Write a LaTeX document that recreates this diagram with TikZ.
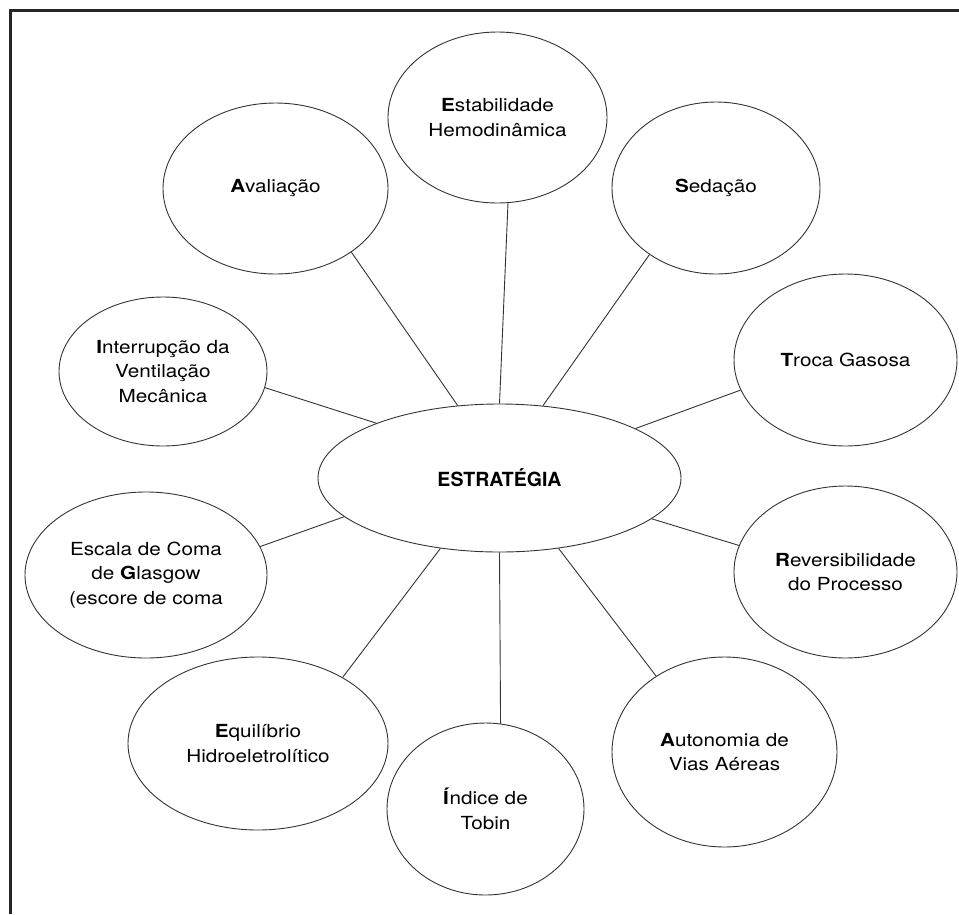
\documentclass[tikz,border=0pt]{standalone}
\usepackage{fontspec}
\setmainfont{TeX Gyre Heros}
\newfontfamily\widefont[FakeStretch=1.15]{TeX Gyre Heros}
\usetikzlibrary{shapes.geometric}

\newcommand{\topicfont}{\widefont\fontsize{18}{24.5}\selectfont}
\newcommand{\hubfont}{\fontsize{19.5}{24}\selectfont\bfseries}

\begin{document}
\begin{tikzpicture}[x=1pt,y=-1pt,
    topic/.style 2 args={ellipse, draw=black!80, line width=0.9pt, inner sep=0pt,
      minimum width=#1, minimum height=#2, align=center, font=\topicfont},
    link/.style={draw=black!80, line width=0.9pt}]
    
    \useasboundingbox (0,0) rectangle (959,914);
    \draw[line width=3pt, black!85] (959,10) -- (10,10) -- (10,914);
    
    \node[topic={363pt}{148pt}, font=\hubfont] (estr) at (499.5,478) {ESTRATÉGIA};
    
    \node[topic={219pt}{171pt}] (estab) at (497.5,117.5) {\textbf{E}stabilidade\\Hemodinâmica};
    \node[topic={225pt}{171pt}] (aval) at (275.5,188.5) {\textbf{A}valiação};
    \node[topic={208pt}{172pt}] (sed) at (716,188) {\textbf{S}edação};
    \node[topic={223pt}{172pt}] (troca) at (845.5,360) {\textbf{T}roca Gasosa};
    \node[topic={208pt}{149pt}] (interr) at (163,371.5) {\textbf{I}nterrupção da\\Ventilação\\Mecânica};
    \node[topic={242pt}{166pt}] (escala) at (146,575) {Escala de Coma\\de \textbf{G}lasgow\\(escore de coma};
    \node[topic={223pt}{172pt}] (rever) at (845.5,572) {\textbf{R}eversibilidade\\do Processo};
    \node[topic={260pt}{173pt}] (equil) at (258,743.5) {\textbf{E}quilíbrio\\Hidroeletrolítico};
    \node[topic={197pt}{172pt}] (indice) at (485.5,809) {\textbf{Í}ndice de\\Tobin};
    \node[topic={225pt}{190pt}] (auton) at (724.5,752) {\textbf{A}utonomia de\\Vias Aéreas};
    
    % spokes
    \draw[link] (estab.277) -- (estr.90);
    \draw[link] (aval.320) -- (estr.120.4);
    \draw[link] (sed.225) -- (estr.59.5);
    \draw[link] (troca.196.5) -- (estr.20.9);
    \draw[link] (interr.351.6) -- (estr.156.5);
    \draw[link] (escala.14.4) -- (estr.194.5);
    \draw[link] (rever.166) -- (estr.345.9);
    \draw[link] (equil.38) -- (estr.230);
    \draw[link] (indice.80.4) -- (estr.270);
    \draw[link] (auton.132.4) -- (estr.310.4);
\end{tikzpicture}
\end{document}
